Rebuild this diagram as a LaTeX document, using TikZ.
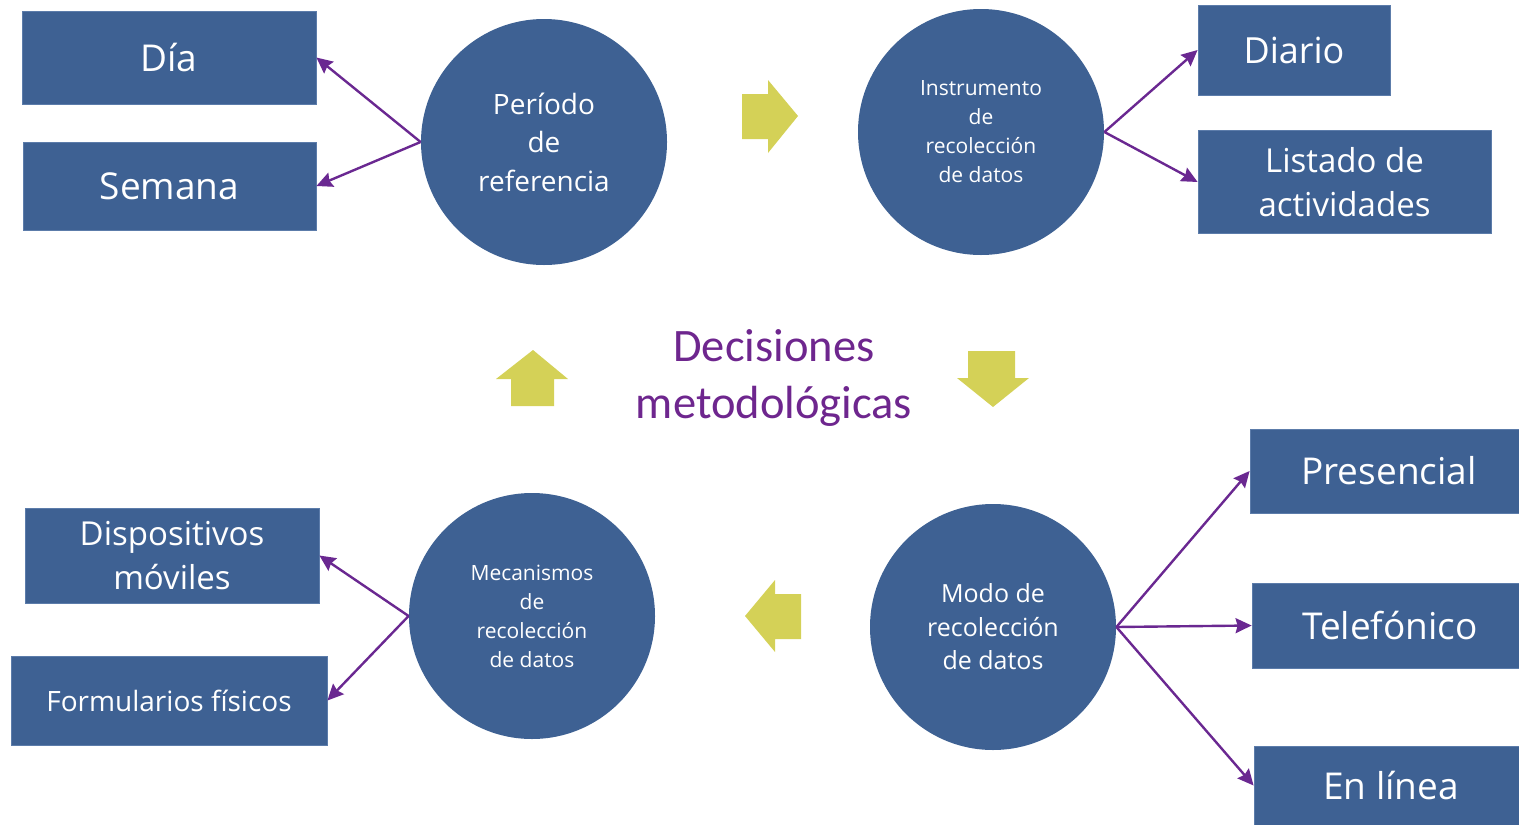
\documentclass[tikz,border=0pt]{standalone}
\usepackage{fontspec}
\setmainfont{Open Sans}
\newfontfamily\titlefont{Carlito}
\usetikzlibrary{arrows.meta}
\definecolor{boxblue}{RGB}{62,97,147}
\definecolor{boxedge}{RGB}{92,124,170}
\definecolor{linkpurple}{RGB}{106,40,145}
\definecolor{titlepurple}{RGB}{110,38,142}
\definecolor{flowyellow}{RGB}{212,209,87}

\begin{document}
\begin{tikzpicture}[x=1pt, y=-1pt, thick, >=Stealth]
  % Define styles
  \tikzstyle{item} = [rectangle, inner sep=0pt, fill=boxblue, draw=boxedge, line width=0.8pt, text=white, align=center]
  \tikzstyle{topic} = [circle, inner sep=0pt, minimum size=246pt, fill=boxblue, text=white, align=center]
  \tikzstyle{link} = [draw=linkpurple, line width=2.4pt, -{Stealth[length=16pt,width=15pt,inset=2pt]}]
  \tikzstyle{flow} = [fill=flowyellow]

  \clip (0,0) rectangle (1519,825);

  % Place nodes
  \node [topic, font=\fontsize{28}{38.5}\selectfont] (periodo) at (544,142) {Período\\de\\referencia};
  \node [topic, font=\fontsize{21}{29}\selectfont] (instrumento) at (981,132) {Instrumento\\de\\recolección\\de datos};
  \node [topic, font=\fontsize{25}{33.5}\selectfont] (modo) at (993,627) {Modo de\\recolección\\de datos};
  \node [topic, font=\fontsize{21}{29}\selectfont] (mecanismos) at (532,616) {Mecanismos\\de\\recolección\\de datos};

  \node [item, minimum width=294pt, minimum height=93pt, font=\fontsize{37}{44}\selectfont] (dia) at (169,57.5) {Día};
  \node [item, minimum width=293pt, minimum height=88pt, font=\fontsize{37}{44}\selectfont] (semana) at (169.5,186) {Semana};
  \node [item, minimum width=192pt, minimum height=90pt, font=\fontsize{36}{44}\selectfont] (diario) at (1294,50) {Diario};
  \node [item, minimum width=293pt, minimum height=103pt, font=\fontsize{33}{44}\selectfont] (listado) at (1344.5,182) {Listado de\\actividades};
  \node [item, minimum width=278pt, minimum height=84pt, font=\fontsize{37}{44}\selectfont] (presencial) at (1389,471) {Presencial};
  \node [item, minimum width=276pt, minimum height=85pt, font=\fontsize{37}{44}\selectfont] (telefonico) at (1390,625.5) {Telefónico};
  \node [item, minimum width=274pt, minimum height=79pt, font=\fontsize{37}{44}\selectfont] (enlinea) at (1391,785.5) {En línea};
  \node [item, minimum width=294pt, minimum height=95pt, font=\fontsize{33}{44}\selectfont] (dispositivos) at (172,555.5) {Dispositivos\\móviles};
  \node [item, minimum width=316pt, minimum height=89pt, font=\fontsize{28}{34}\selectfont] (formularios) at (169,700.5) {Formularios físicos};

  \node [text=titlepurple, align=center, font=\titlefont\fontsize{46.5}{57}\selectfont] (titulo) at (774,378) {Decisiones\\metodológicas};

  % Block arrows
  \fill [flow] (742,94) -- (768,94) -- (768,80) -- (798,116) -- (768,153) -- (768,139) -- (742,139) -- cycle;
  \fill [flow] (968,351) -- (1015,351) -- (1015,378) -- (1029,378) -- (993,407) -- (957,378) -- (968,378) -- cycle;
  \fill [flow] (801,594) -- (775,594) -- (775,580) -- (745,616) -- (775,652) -- (775,639) -- (801,639) -- cycle;
  \fill [flow] (511,406) -- (511,379) -- (496,379) -- (533,350) -- (568,379) -- (554,379) -- (554,406) -- cycle;

  % Draw edges
  \path [link] (periodo.west) -- (dia.east);
  \path [link] (periodo.west) -- (semana.east);
  \path [link] (instrumento.east) -- (diario.west);
  \path [link] (instrumento.east) -- (listado.west);
  \path [link] (modo.east) -- (presencial.west);
  \path [link] (modo.east) -- (telefonico.west);
  \path [link] (modo.east) -- (enlinea.west);
  \path [link] (mecanismos.west) -- (dispositivos.east);
  \path [link] (mecanismos.west) -- (formularios.east);
\end{tikzpicture}
\end{document}
